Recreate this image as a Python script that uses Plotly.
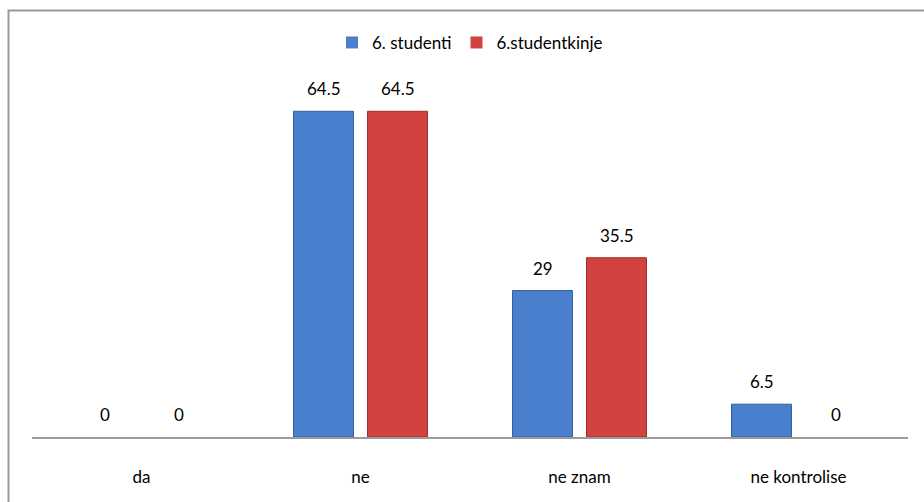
import plotly.graph_objects as go

categories = ["da", "ne", "ne znam", "ne kontrolise"]
studenti = [0, 64.5, 29, 6.5]
studentkinje = [0, 64.5, 35.5, 0]

FONT = "Lato, Calibri, 'Open Sans', sans-serif"
SERIES = [
    ("6. studenti", studenti, "#4a7fcd", "#33609f", -37),
    ("6.studentkinje", studentkinje, "#d2423f", "#a02e2b", 37),
]

fig = go.Figure()
for name, vals, fill, edge, dx in SERIES:
    fig.add_trace(go.Bar(
        name=name, x=categories, y=vals,
        marker=dict(color=fill,
                    line=dict(color=edge, width=[0 if v == 0 else 1 for v in vals])),
    ))
    # value labels above each bar
    for cat, v in zip(categories, vals):
        fig.add_annotation(x=cat, y=v, text=f"{v:g}", showarrow=False,
                           xshift=dx, yshift=10, yanchor="bottom",
                           font=dict(size=17, color="#000000"))

fig.update_layout(
    width=924, height=502,
    margin=dict(l=32, r=16, t=33, b=65),
    paper_bgcolor="white", plot_bgcolor="white",
    barmode="group", bargap=0.324, bargroupgap=0.19,
    font=dict(family=FONT, size=17, color="#000000"),
    showlegend=True,
    legend=dict(orientation="h", x=0.5, xanchor="center", y=1.02, yanchor="top",
                font=dict(size=17), itemwidth=30, traceorder="normal"),
    xaxis=dict(showline=True, linecolor="#9c9c9c", linewidth=2,
               ticks="", showgrid=False, tickfont=dict(size=17),
               ticklabelstandoff=24),
    yaxis=dict(range=[0, 80], visible=False, showgrid=False, zeroline=False),
)

# chart-area border: left and top edges as one open path
BX, BY = -0.0268, 1.0557
fig.add_shape(type="path", xref="paper", yref="paper",
              path=f"M {BX},-0.2 L {BX},{BY} L 1.1,{BY}",
              line=dict(color="#9a9a9a", width=2))

fig.write_html("out.html")
